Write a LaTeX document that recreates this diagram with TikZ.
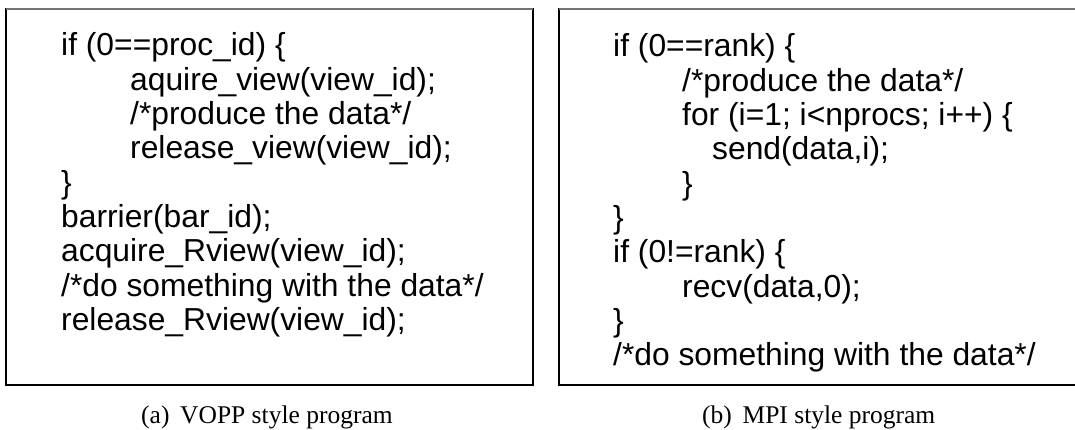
\documentclass[tikz,border=0pt]{standalone}
\usepackage{fontspec}
\setmainfont{Liberation Serif}
\newfontfamily\codefont{Liberation Sans}
\begin{document}
\begin{tikzpicture}[x=1pt,y=-1pt,
  code/.style={anchor=base west,inner sep=0pt,font=\codefont\fontsize{31.8}{34}\selectfont},
  captext/.style={anchor=base west,inner sep=0pt,font=\fontsize{25.5}{28}\selectfont},
  boxline/.style={line width=1.2pt,draw=black}]
\useasboundingbox (0,0) rectangle (1075,430);
% boxes
\draw[boxline] (6,9) rectangle (533,385);
\draw[boxline] (559,9) rectangle (1086,385);
\draw[line width=1.4pt,black!55] (6,9) -- (533,9);
\draw[line width=1.4pt,black!55] (559,9) -- (1086,9);
% left code
\node[code] (l1) at (61,56) {if (0==proc\_id) \{};
\node[code] (l2) at (130,90.3) {aquire\_view(view\_id);};
\node[code] (l3) at (130,124.6) {/*produce the data*/};
\node[code] (l4) at (130,158.9) {release\_view(view\_id);};
\node[code] (l5) at (61,193.2) {\}};
\node[code] (l6) at (61,227.5) {barrier(bar\_id);};
\node[code] (l7) at (61,261.8) {acquire\_Rview(view\_id);};
\node[code] (l8) at (61,296.1) {/*do something with the data*/};
\node[code] (l9) at (61,330.4) {release\_Rview(view\_id);};
% right code
\node[code] (r1) at (613,57) {if (0==rank) \{};
\node[code] (r2) at (682,91.3) {/*produce the data*/};
\node[code] (r3) at (682,125.6) {for (i=1; i<nprocs; i++) \{};
\node[code] (r4) at (712,159.9) {send(data,i);};
\node[code] (r5) at (682,194.2) {\}};
\node[code] (r6) at (613,228.5) {\}};
\node[code] (r7) at (613,262.8) {if (0!=rank) \{};
\node[code] (r8) at (682,297.1) {recv(data,0);};
\node[code] (r9) at (613,331.4) {\}};
\node[code] (r10) at (613,365.7) {/*do something with the data*/};
% captions
\node[captext] (capa) at (141,423) {(a)\hspace{0.42em}VOPP style program};
\node[captext] (capb) at (702,423) {(b)\hspace{0.42em}MPI style program};
\end{tikzpicture}
\end{document}
